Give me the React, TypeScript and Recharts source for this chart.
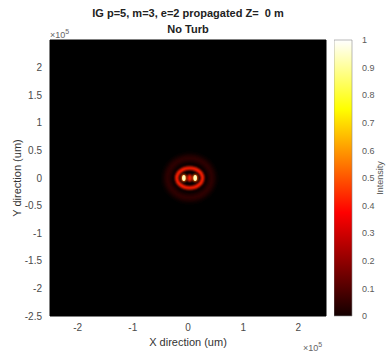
import { ScatterChart, Scatter, XAxis, YAxis, ReferenceArea, BarChart, Bar } from 'recharts'

// axis ticks (x and y in units of 1e5 um)
const xTicks = [-2, -1, 0, 1, 2]
const yTicks = [-2.5, -2, -1.5, -1, -0.5, 0, 0.5, 1, 1.5, 2]
const cbTicks = [0, 0.1, 0.2, 0.3, 0.4, 0.5, 0.6, 0.7, 0.8, 0.9, 1]

// beam rings: centre x, radii (x / y) and normalised intensity
const ringCx = [0.03, 0.03]
const ringRx = [0.235, 0.4]
const ringRy = [0.18, 0.36]
const ringLevel = [0.42, 0.06]

// inner lobes: centre position and intensity
const lobeX = [-0.075, 0.03, 0.13]
const lobeY = [0, 0, 0]
const lobeLevel = [0.93, 0.42, 0.93]

const W = 386
const H = 358
const PLOT = { left: 50, top: 40, width: 276, height: 276 }
const PX = PLOT.width / 5 // pixels per axis unit

const FONT = '"Liberation Sans", Arial, Helvetica, sans-serif'
const TICK = { fill: '#4a4a4a', fontSize: 10 }

function hot(v: number) {
  const c = (t: number) => Math.round(255 * Math.max(0, Math.min(1, t)))
  const r = c((v + 0.03) / 0.405)
  const g = c((v - 0.375) / 0.375)
  const b = c((v - 0.75) / 0.25)
  return `rgb(${r},${g},${b})`
}

const ringData = ringRx.map((rx, i) => ({ x: ringCx[i], y: 0, rx, ry: ringRy[i], level: ringLevel[i] }))
const lobeData = lobeX.map((x, i) => ({ x, y: lobeY[i], level: lobeLevel[i] }))
const cbData = [{ k: 'intensity', v: 1 }]

function RingShape(props: any) {
  const { cx, cy, payload } = props
  const wide = payload.level < 0.2
  return (
    <ellipse
      cx={cx}
      cy={cy}
      rx={payload.rx * PX}
      ry={payload.ry * PX}
      fill="none"
      stroke={hot(payload.level)}
      strokeWidth={wide ? 6 : 3.6}
      filter={wide ? 'url(#blur2)' : 'url(#blur1)'}
    />
  )
}

function LobeShape(props: any) {
  const { cx, cy, payload } = props
  const bright = payload.level > 0.7
  return (
    <g>
      <ellipse cx={cx} cy={cy} rx={bright ? 2.8 : 2.4} ry={3.8} fill={hot(bright ? 0.5 : payload.level)} filter="url(#blur1)" />
      {bright && <ellipse cx={cx} cy={cy} rx={1.8} ry={2.9} fill={hot(payload.level)} filter="url(#blurS)" />}
    </g>
  )
}

export default function App() {
  return (
    <div style={{ position: 'absolute', left: 0, top: 0, width: W, height: H, background: '#fff', fontFamily: FONT, overflow: 'hidden' }}>
      <svg width={0} height={0} style={{ position: 'absolute' }}>
        <defs>
          <linearGradient id="hotGrad" x1="0" y1="1" x2="0" y2="0">
            {[0, 0.05, 0.1, 0.15, 0.2, 0.3, 0.375, 0.45, 0.55, 0.65, 0.75, 0.85, 1].map((t) => (
              <stop key={t} offset={`${t * 100}%`} stopColor={hot(t)} />
            ))}
          </linearGradient>
          <filter id="blurS" x="-50%" y="-50%" width="200%" height="200%">
            <feGaussianBlur stdDeviation="0.5" />
          </filter>
          <filter id="blur1" x="-50%" y="-50%" width="200%" height="200%">
            <feGaussianBlur stdDeviation="0.9" />
          </filter>
          <filter id="blur2" x="-50%" y="-50%" width="200%" height="200%">
            <feGaussianBlur stdDeviation="2.5" />
          </filter>
        </defs>
      </svg>

      <div style={{ position: 'absolute', left: 0, top: 0 }}>
        <ScatterChart width={W} height={H} margin={{ top: PLOT.top, right: W - PLOT.left - PLOT.width, bottom: 0, left: 0 }}>
          <XAxis
            type="number"
            dataKey="x"
            domain={[-2.5, 2.5]}
            ticks={xTicks}
            height={H - PLOT.top - PLOT.height}
            tick={TICK}
            tickLine={false}
            axisLine={false}
            allowDataOverflow
          />
          <YAxis
            type="number"
            dataKey="y"
            domain={[-2.5, 2.5]}
            ticks={yTicks}
            width={PLOT.left}
            tick={TICK}
            tickLine={false}
            axisLine={false}
            allowDataOverflow
          />
          <ReferenceArea x1={-2.5} x2={2.5} y1={-2.5} y2={2.5} fill="#000" fillOpacity={1} stroke="#000" />
          <Scatter data={ringData} shape={<RingShape />} isAnimationActive={false} />
          <Scatter data={lobeData} shape={<LobeShape />} isAnimationActive={false} />
        </ScatterChart>
      </div>

      <div style={{ position: 'absolute', left: 334, top: 0 }}>
        <BarChart width={52} height={H} data={cbData} barCategoryGap={0} margin={{ top: PLOT.top, right: 0, bottom: H - PLOT.top - PLOT.height, left: 0 }}>
          <XAxis dataKey="k" hide />
          <YAxis
            orientation="right"
            domain={[0, 1]}
            ticks={cbTicks}
            width={34}
            tick={{ ...TICK, fontSize: 9, fill: '#5a5a5a' }}
            tickLine={false}
            axisLine={false}
            tickMargin={4}
            tickFormatter={(v: number) => (v === 0 || v === 1 ? String(v) : v.toFixed(1))}
          />
          <Bar dataKey="v" fill="url(#hotGrad)" stroke="#8a8a8a" strokeWidth={0.6} isAnimationActive={false} />
        </BarChart>
      </div>

      <div style={{ position: 'absolute', left: 0, width: 376, top: 6, textAlign: 'center', fontSize: 11, fontWeight: 'bold', color: '#222', lineHeight: '14px', whiteSpace: 'pre' }}>
        {'IG p=5, m=3, e=2 propagated Z=  0 m'}
      </div>
      <div style={{ position: 'absolute', left: 0, width: 376, top: 22, textAlign: 'center', fontSize: 11, fontWeight: 'bold', color: '#222', lineHeight: '14px' }}>
        No Turb
      </div>

      <div style={{ position: 'absolute', left: 50, top: 26, fontSize: 9, color: '#666', lineHeight: '12px' }}>
        ×10<sup style={{ fontSize: 7 }}>5</sup>
      </div>
      <div style={{ position: 'absolute', left: 303, top: 339, fontSize: 9, color: '#666', lineHeight: '12px' }}>
        ×10<sup style={{ fontSize: 7 }}>5</sup>
      </div>

      <div style={{ position: 'absolute', left: 0, width: 376, top: 335, textAlign: 'center', fontSize: 11, color: '#333', lineHeight: '14px' }}>
        X direction (um)
      </div>
      <div style={{ position: 'absolute', left: 17, top: 178, transform: 'translate(-50%, -50%) rotate(-90deg)', fontSize: 11, color: '#333', lineHeight: '14px', whiteSpace: 'nowrap' }}>
        Y direction (um)
      </div>
      <div style={{ position: 'absolute', left: 380, top: 178, transform: 'translate(-50%, -50%) rotate(-90deg)', fontSize: 9, color: '#555', lineHeight: '12px', whiteSpace: 'nowrap' }}>
        Intensity
      </div>
    </div>
  )
}
